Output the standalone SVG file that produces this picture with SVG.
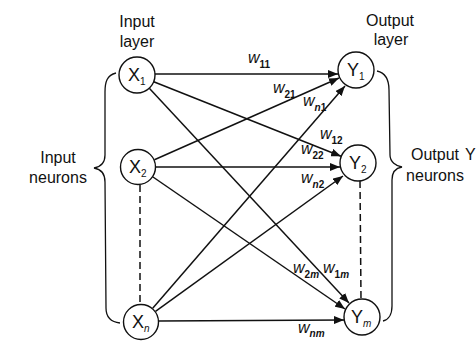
<svg xmlns="http://www.w3.org/2000/svg" width="476" height="341" viewBox="0 0 476 341">
<style>
.node circle{fill:#fff;stroke:#111;stroke-width:1.4}
.lbl{font-family:"Liberation Sans",Arial,sans-serif;font-size:18px;fill:#111}
.sub{font-size:10px}
.txt{font-family:"Liberation Sans",Arial,sans-serif;font-size:16px;fill:#111;text-anchor:middle}
.w{font-family:"Liberation Sans",Arial,sans-serif;font-size:16px;font-style:italic;fill:#111}
.ws{font-size:10px;font-style:normal;font-weight:bold}
.edge{stroke:#111;stroke-width:1.5;fill:none;marker-end:url(#ah)}
.dash{stroke:#111;stroke-width:1.5;fill:none;stroke-dasharray:7 4}
.brace{stroke:#111;stroke-width:1.3;fill:none}
</style>
<defs>
<marker id="ah" markerUnits="userSpaceOnUse" markerWidth="11" markerHeight="8" refX="10" refY="4" orient="auto">
<path d="M0,0 L10,4 L0,8 Z" fill="#111"/>
</marker>
</defs>
<rect width="476" height="341" fill="#fff"/>
<g id="connectors">
<line class="edge" x1="155" y1="74" x2="338" y2="74"/>
<line class="edge" x1="153.7" y1="81.7" x2="341" y2="156.3"/>
<line class="edge" x1="149.3" y1="88.2" x2="349" y2="303"/>
<line class="edge" x1="154.4" y1="159.7" x2="339" y2="78"/>
<line class="edge" x1="156" y1="167" x2="340" y2="167"/>
<line class="edge" x1="153" y1="177" x2="345" y2="309"/>
<line class="edge" x1="152.7" y1="308.3" x2="345" y2="86"/>
<line class="edge" x1="155.5" y1="311.4" x2="343" y2="176"/>
<line class="edge" x1="159" y1="321" x2="344" y2="320"/>
<line class="dash" x1="140" y1="185" x2="140" y2="305"/>
<line class="dash" x1="360" y1="181" x2="361" y2="299"/>
</g>
<g id="X1" class="node"><circle cx="137" cy="75" r="18"/><text class="lbl" x="128" y="81">X<tspan class="sub" dy="4">1</tspan></text></g>
<g id="X2" class="node"><circle cx="138" cy="167" r="17.5"/><text class="lbl" x="129" y="173">X<tspan class="sub" dy="4">2</tspan></text></g>
<g id="Xn" class="node"><circle cx="141" cy="322" r="17.5"/><text class="lbl" x="132" y="328">X<tspan class="sub" dy="4" font-style="italic">n</tspan></text></g>
<g id="Y1" class="node"><circle cx="356" cy="70" r="18"/><text class="lbl" x="347" y="76">Y<tspan class="sub" dy="4">1</tspan></text></g>
<g id="Y2" class="node"><circle cx="358" cy="163" r="18"/><text class="lbl" x="349" y="169">Y<tspan class="sub" dy="4">2</tspan></text></g>
<g id="Ym" class="node"><circle cx="362" cy="317" r="18"/><text class="lbl" x="351" y="323">Y<tspan class="sub" dy="4" font-style="italic">m</tspan></text></g>
<g id="labels">
<text class="txt" x="137" y="27">Input</text>
<text class="txt" x="137" y="47">layer</text>
<text class="txt" x="390" y="26">Output</text>
<text class="txt" x="391" y="45">layer</text>
<text class="txt" x="58" y="163">Input</text>
<text class="txt" x="58" y="183">neurons</text>
<text class="txt" x="435" y="160">Output</text>
<text class="txt" x="435" y="181">neurons</text>
<text class="txt" x="465" y="160" style="text-anchor:start">Y</text>
</g>
<g id="weights">
<text class="w" x="248" y="63">w<tspan class="ws" dy="5">11</tspan></text>
<text class="w" x="273" y="93">w<tspan class="ws" dy="5">21</tspan></text>
<text class="w" x="303" y="106">w<tspan class="ws" dy="5"><tspan font-style="italic">n</tspan>1</tspan></text>
<text class="w" x="320" y="139">w<tspan class="ws" dy="5">12</tspan></text>
<text class="w" x="301" y="154">w<tspan class="ws" dy="5">22</tspan></text>
<text class="w" x="301" y="183">w<tspan class="ws" dy="5"><tspan font-style="italic">n</tspan>2</tspan></text>
<text class="w" x="293" y="273">w<tspan class="ws" dy="5">2<tspan font-style="italic">m</tspan></tspan></text>
<text class="w" x="323" y="273">w<tspan class="ws" dy="5">1<tspan font-style="italic">m</tspan></tspan></text>
<text class="w" x="298" y="333">w<tspan class="ws" dy="4"><tspan font-style="italic">nm</tspan></tspan></text>
</g>
<g id="braces">
<path class="brace" d="M116,73 C107,75 105,82 105,92 L105,155 C105,163 100,167 94,168 C100,169 105,173 105,182 L106,308 C106,317 111,322 120,323"/>
<path class="brace" d="M377,71 C386,73 389,80 389,90 L390,155 C390,162 396,166 402,167 C396,168 392,172 392,180 L392,306 C392,315 388,320 383,321"/>
</g>
</svg>
